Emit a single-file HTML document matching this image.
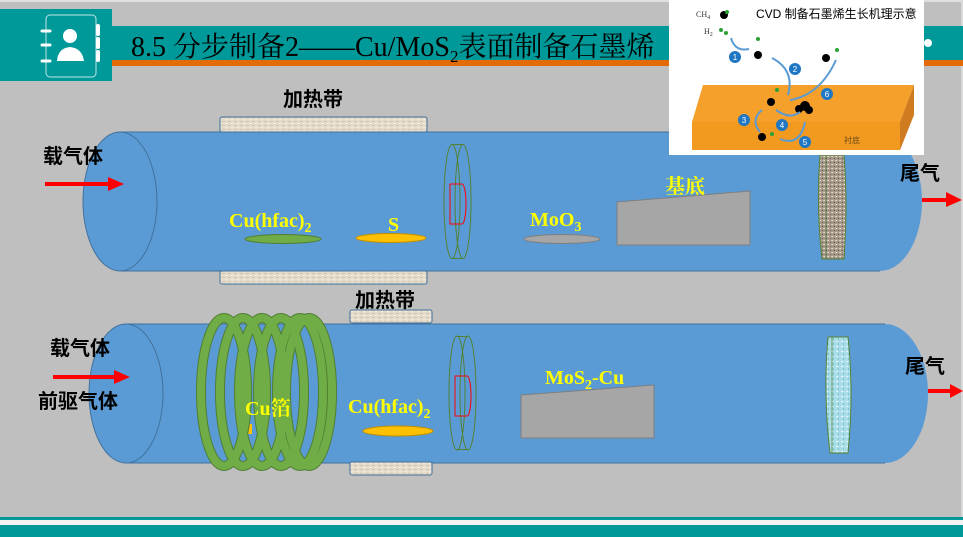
<!DOCTYPE html>
<html><head><meta charset="utf-8"><style>
html,body{margin:0;padding:0;background:#bfbfbf}
svg{display:block}
text{font-family:"Liberation Sans","Noto Sans CJK SC",sans-serif}
.s{font-family:"Liberation Serif","Noto Serif CJK SC",serif;font-weight:bold;fill:#ffff00}
</style></head><body>
<svg width="963" height="537" viewBox="0 0 963 537" xmlns="http://www.w3.org/2000/svg">
<defs>
<pattern id="lin" width="6" height="4" patternUnits="userSpaceOnUse"><rect width="6" height="4" fill="#e6dccb"/><rect x="0" y="1" width="3" height="1" fill="#cfc4b0"/><rect x="3" y="3" width="2" height="1" fill="#f4ede0"/></pattern>
<pattern id="gr" width="4" height="4" patternUnits="userSpaceOnUse"><rect width="4" height="4" fill="#a89a8a"/><rect x="0" y="0" width="1" height="1" fill="#e8e0d6"/><rect x="2" y="2" width="1" height="1" fill="#5a4e44"/><rect x="3" y="0" width="1" height="1" fill="#d0c6ba"/></pattern>
<pattern id="ic" width="5" height="5" patternUnits="userSpaceOnUse"><rect width="5" height="5" fill="#a9dde8"/><rect x="1" y="1" width="2" height="1" fill="#e4f6fa"/><rect x="3" y="3" width="1" height="2" fill="#7cc2d2"/></pattern>
</defs>
<rect width="963" height="537" fill="#bfbfbf"/>
<rect x="0" y="0" width="963" height="2" fill="#e0e0e0"/>
<rect x="961" y="0" width="2" height="517" fill="#d8d8d8"/>
<!-- header -->
<rect x="112" y="26" width="851" height="34" fill="#009999"/>
<rect x="112" y="60" width="851" height="6" fill="#e36c09"/>
<rect x="0" y="9" width="112" height="72" fill="#009999"/>
<rect x="46" y="15" width="50" height="62" rx="4" fill="none" stroke="#bfe6e6" stroke-width="1"/>
<g stroke="#fff" stroke-width="3" stroke-linecap="round"><line x1="42" y1="31" x2="50" y2="31"/><line x1="42" y1="45" x2="50" y2="45"/><line x1="42" y1="61" x2="50" y2="61"/></g>
<g fill="#fff"><rect x="96" y="24" width="4" height="12" rx="2"/><rect x="96" y="37" width="4" height="12" rx="2"/><rect x="96" y="50" width="4" height="12" rx="2"/></g>
<circle cx="70" cy="36" r="7" fill="#fff"/><path d="M57 61 Q58 48 70 47 Q82 48 84 61 Z" fill="#fff"/>
<text x="131" y="56" font-size="28" fill="#000" style="font-family:'Liberation Serif','Noto Serif CJK SC',serif">8.5 分步制备2——Cu/MoS<tspan font-size="17" dy="6">2</tspan><tspan dy="-6">表面制备石墨烯</tspan></text>
<!-- bottom -->
<rect x="0" y="517" width="963" height="3" fill="#009999"/>
<rect x="0" y="520" width="963" height="5" fill="#f2f2f2"/>
<rect x="0" y="525" width="963" height="12" fill="#009999"/>

<!-- tube 1 -->
<path d="M120 132 L880 132 A42 69.5 0 0 1 880 271 L120 271 Z" fill="#5b9bd5"/>
<line x1="120" y1="132" x2="880" y2="132" stroke="#41719c" stroke-width="1"/>
<line x1="120" y1="271" x2="880" y2="271" stroke="#41719c" stroke-width="1"/>
<ellipse cx="120" cy="201.5" rx="37" ry="69.5" fill="#5b9bd5" stroke="#41719c"/>
<rect x="220" y="117" width="207" height="15" rx="2" fill="url(#lin)" stroke="#41719c"/>
<rect x="220" y="271" width="207" height="13" rx="2" fill="url(#lin)" stroke="#41719c"/>
<text x="283" y="106" font-size="20" font-weight="bold" fill="#000">加热带</text>
<text x="43" y="163" font-size="20" font-weight="bold" fill="#000">载气体</text>
<path d="M45 182 L108 182 L108 177 L124 184 L108 191 L108 186 L45 186 Z" fill="#ff0000"/>
<text x="229" y="227" class="s" font-size="20">Cu(hfac)<tspan font-size="14" dy="5">2</tspan></text>
<ellipse cx="283" cy="239" rx="38" ry="4.5" fill="#70ad47" stroke="#507e32"/>
<text x="388" y="231" class="s" font-size="20">S</text>
<ellipse cx="391" cy="238" rx="35" ry="4.5" fill="#ffc000" stroke="#bf9000"/>
<text x="530" y="226" class="s" font-size="20">MoO<tspan font-size="14" dy="5">3</tspan></text>
<ellipse cx="562" cy="239" rx="38" ry="4.5" fill="#a6a6a6" stroke="#7f7f7f"/>
<path d="M617 202 L750 191 L750 245 L617 245 Z" fill="#a6a6a6" stroke="#7f7f7f"/>
<text x="665" y="193" font-size="20" font-weight="bold" fill="#ffff00" style="font-family:'Noto Serif CJK SC',serif">基底</text>
<!-- disk 1 -->
<ellipse cx="452" cy="201.5" rx="8" ry="57" fill="none" stroke="#548235"/>
<ellipse cx="463" cy="201.5" rx="8" ry="57" fill="none" stroke="#548235"/>
<line x1="452" y1="144.5" x2="463" y2="144.5" stroke="#548235"/><line x1="452" y1="258.5" x2="463" y2="258.5" stroke="#548235"/>
<path d="M450 184 L462 184 A4 20 0 0 1 462 224 L450 224 Z" fill="none" stroke="#ff0000"/>
<!-- granular filter -->
<path d="M820 155 L844 155 Q848 207 844 259 L822 259 Q816 207 820 155 Z" fill="url(#gr)" stroke="#548235"/>
<line x1="826" y1="155" x2="826" y2="259" stroke="#548235" stroke-width="0.8"/>
<text x="900" y="180" font-size="20" font-weight="bold" fill="#000">尾气</text>
<path d="M922 198 L946 198 L946 192 L962 200 L946 207 L946 202 L922 202 Z" fill="#ff0000"/>

<!-- tube 2 -->
<path d="M126 324 L885 324 A43 69.5 0 0 1 885 463 L126 463 Z" fill="#5b9bd5"/>
<line x1="126" y1="324" x2="885" y2="324" stroke="#41719c"/>
<line x1="126" y1="463" x2="885" y2="463" stroke="#41719c"/>
<ellipse cx="126" cy="393.5" rx="37" ry="69.5" fill="#5b9bd5" stroke="#41719c"/>
<rect x="350" y="310" width="82" height="13" rx="2" fill="url(#lin)" stroke="#41719c"/>
<rect x="350" y="462" width="82" height="13" rx="2" fill="url(#lin)" stroke="#41719c"/>
<text x="355" y="307" font-size="20" font-weight="bold" fill="#000">加热带</text>
<text x="50" y="355" font-size="20" font-weight="bold" fill="#000">载气体</text>
<path d="M53 375 L114 375 L114 370 L130 377 L114 384 L114 379 L53 379 Z" fill="#ff0000"/>
<text x="38" y="408" font-size="20" font-weight="bold" fill="#000">前驱气体</text>
<rect x="244" y="424" width="8" height="10" fill="#ffc000"/>
<g fill="none" stroke="#507e32" stroke-width="10">
<ellipse cx="224" cy="392" rx="23" ry="74"/><ellipse cx="243" cy="392" rx="23" ry="74"/><ellipse cx="262" cy="392" rx="23" ry="74"/><ellipse cx="281" cy="392" rx="23" ry="74"/><ellipse cx="300" cy="392" rx="23" ry="74"/><ellipse cx="309" cy="392" rx="23" ry="74"/>
</g>
<g fill="none" stroke="#70ad47" stroke-width="8">
<ellipse cx="224" cy="392" rx="23" ry="74"/><ellipse cx="243" cy="392" rx="23" ry="74"/><ellipse cx="262" cy="392" rx="23" ry="74"/><ellipse cx="281" cy="392" rx="23" ry="74"/><ellipse cx="300" cy="392" rx="23" ry="74"/><ellipse cx="309" cy="392" rx="23" ry="74"/>
</g>
<text x="245" y="415" class="s" font-size="20">Cu<tspan style="font-family:'Noto Serif CJK SC',serif">箔</tspan></text>
<text x="348" y="413" class="s" font-size="20">Cu(hfac)<tspan font-size="14" dy="5">2</tspan></text>
<ellipse cx="398" cy="431" rx="35" ry="5" fill="#ffc000" stroke="#bf9000"/>
<text x="545" y="384" class="s" font-size="20">MoS<tspan font-size="14" dy="5">2</tspan><tspan dy="-5">-Cu</tspan></text>
<path d="M521 395 L654 385 L654 438 L521 438 Z" fill="#a6a6a6" stroke="#7f7f7f"/>
<ellipse cx="457" cy="393" rx="8" ry="57" fill="none" stroke="#548235"/>
<ellipse cx="468" cy="393" rx="8" ry="57" fill="none" stroke="#548235"/>
<line x1="457" y1="336.5" x2="468" y2="336.5" stroke="#548235"/><line x1="457" y1="449.5" x2="468" y2="449.5" stroke="#548235"/>
<path d="M455 376 L467 376 A4 20 0 0 1 467 416 L455 416 Z" fill="none" stroke="#ff0000"/>
<path d="M828 337 L848 337 Q854 393 848 453 L830 453 Q823 393 828 337 Z" fill="url(#ic)" stroke="#548235"/>
<line x1="832" y1="337" x2="832" y2="453" stroke="#548235" stroke-width="0.8"/>
<text x="905" y="373" font-size="20" font-weight="bold" fill="#000">尾气</text>
<path d="M928 389 L950 389 L950 384 L963 391 L950 398 L950 393 L928 393 Z" fill="#ff0000"/>

<!-- inset -->
<rect x="669" y="0" width="255" height="155" fill="#fff"/>
<circle cx="928" cy="43" r="4" fill="#fff"/>
<text x="756" y="18" font-size="12" fill="#000">CVD 制备石墨烯生长机理示意</text>
<text x="696" y="17" font-size="8" fill="#333" style="font-family:'Liberation Serif',serif">CH<tspan font-size="6" dy="2">4</tspan></text>
<text x="704" y="34" font-size="8" fill="#333" style="font-family:'Liberation Serif',serif">H<tspan font-size="6" dy="2">2</tspan></text>
<path d="M692 122 L703 85 L914 85 L900 122 Z" fill="#f5a02a"/>
<path d="M692 122 L900 122 L900 150 L692 150 Z" fill="#f29a1f"/>
<path d="M900 122 L914 85 L914 115 L900 150 Z" fill="#cf7c20"/>
<text x="844" y="143" font-size="8" fill="#6b4a1a">衬底</text>
<g fill="#000"><circle cx="724" cy="15" r="4"/><circle cx="758" cy="55" r="4"/><circle cx="826" cy="58" r="4"/><circle cx="771" cy="102" r="4"/><circle cx="805" cy="106" r="5"/><circle cx="799" cy="109" r="4"/><circle cx="809" cy="110" r="4"/><circle cx="762" cy="137" r="4"/></g>
<g fill="#2aa135"><circle cx="727" cy="12" r="2"/><circle cx="721" cy="30" r="2"/><circle cx="726" cy="33" r="2"/><circle cx="758" cy="39" r="2"/><circle cx="837" cy="50" r="2"/><circle cx="777" cy="90" r="2"/><circle cx="772" cy="134" r="2"/></g>
<g fill="none" stroke="#5b9bd5" stroke-width="2">
<path d="M731 38 Q735 52 749 49"/><path d="M772 58 Q795 70 788 95"/><path d="M790 100 Q820 95 836 60"/><path d="M762 110 Q750 120 760 132"/><path d="M776 110 Q790 120 800 112"/><path d="M780 139 Q800 147 805 122"/></g>
<g fill="#1f77c4"><circle cx="735" cy="57" r="6"/><circle cx="795" cy="69" r="6"/><circle cx="827" cy="94" r="6"/><circle cx="744" cy="120" r="6"/><circle cx="782" cy="125" r="6"/><circle cx="805" cy="142" r="6"/></g>
<g fill="#fff" font-size="8" text-anchor="middle"><text x="735" y="60">1</text><text x="795" y="72">2</text><text x="827" y="97">6</text><text x="744" y="123">3</text><text x="782" y="128">4</text><text x="805" y="145">5</text></g>
</svg>
</body></html>
